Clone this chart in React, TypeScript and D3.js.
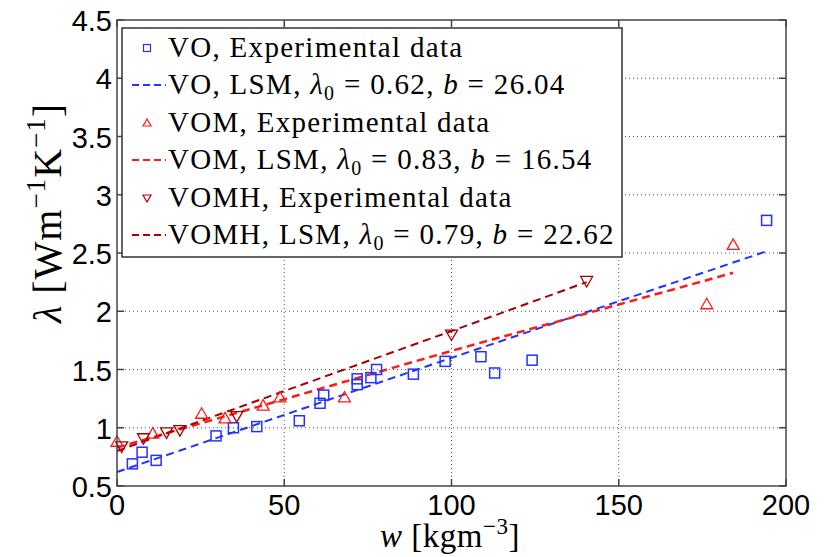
import React from "react";
import * as d3 from "d3";

const xTicks = [0, 50, 100, 150, 200];
const yTicks = [0.5, 1, 1.5, 2, 2.5, 3, 3.5, 4, 4.5];
const yTickLabels = ["0.5", "1", "1.5", "2", "2.5", "3", "3.5", "4", "4.5"];

// VO experimental
const voW = [4.6, 7.5, 11.7, 29.6, 34.8, 41.8, 54.5, 60.7, 61.8, 71.8, 71.8, 75.9, 77.6, 88.6, 98.1, 108.8, 112.9, 124.1, 194.2];
const voL = [0.69, 0.79, 0.72, 0.93, 1.0, 1.01, 1.06, 1.21, 1.28, 1.37, 1.42, 1.43, 1.5, 1.46, 1.57, 1.61, 1.47, 1.58, 2.78];
// VOM experimental
const vomW = [0, 10.7, 25.3, 32.3, 43.7, 48.7, 68, 176.3, 184.2];
const vomL = [0.88, 0.95, 1.12, 1.08, 1.19, 1.26, 1.26, 2.06, 2.57];
// VOMH experimental
const vomhW = [1.4, 7.9, 14.8, 18.8, 35.8, 100, 140.4];
const vomhL = [0.84, 0.91, 0.96, 0.98, 1.1, 1.8, 2.26];

// LSM fits
const voFitW = [0, 100, 194.2];
const voFitL = [0.62, 1.6, 2.515];
const vomFitW = [0, 100, 184.2];
const vomFitL = [0.83, 1.66, 2.33];
const vomhFitW = [0, 100, 140.4];
const vomhFitL = [0.8, 1.83, 2.25];

const W = 825, H = 557;
const L = 117, R = 786, T = 20, B = 486;

const BLUE = "#2233ff";
const RED = "#ff1a1a";
const DRED = "#a80000";

export default function App() {
  const x = d3.scaleLinear().domain([0, 200]).range([L, R]);
  const y = d3.scaleLinear().domain([0.5, 4.5]).range([B, T]);
  const line = d3.line<[number, number]>().x(d => x(d[0])).y(d => y(d[1]));
  const zip = (a: number[], b: number[]) => a.map((v, i) => [v, b[i]] as [number, number]);

  const tri = (cx: number, cy: number, up: boolean, s = 6) =>
    up
      ? `M${cx},${cy - s}L${cx - s},${cy + s * 0.75}L${cx + s},${cy + s * 0.75}Z`
      : `M${cx},${cy + s}L${cx - s},${cy - s * 0.75}L${cx + s},${cy - s * 0.75}Z`;

  const serif = "'Liberation Serif', 'DejaVu Serif', serif";
  const sans = "'Liberation Sans', Arial, sans-serif";

  const legendRows = [48, 85, 123, 160, 198, 235];
  const lx0 = 132, lx1 = 166, tx = 168, mx = 147;
  const lfs = 29;

  const fitLabel = (name: string, l0: string, b: string) => (
    <>
      {name}, LSM, <tspan fontStyle="italic">λ</tspan>
      <tspan fontSize={20} dy={6}>0</tspan>
      <tspan dy={-6}> = {l0}, </tspan>
      <tspan fontStyle="italic">b</tspan> = {b}
    </>
  );

  return (
    <svg width={W} height={H} style={{ display: "block", position: "absolute", left: 0, top: 0, background: "#fff" }}>
      <rect x={0} y={0} width={W} height={H} fill="#fff" />
      {/* grid */}
      {xTicks.slice(1, -1).map(t => (
        <line key={"gx" + t} x1={x(t)} x2={x(t)} y1={T} y2={B} stroke="#555" strokeWidth={1} strokeDasharray="1,3" />
      ))}
      {yTicks.slice(1, -1).map(t => (
        <line key={"gy" + t} x1={L} x2={R} y1={y(t)} y2={y(t)} stroke="#555" strokeWidth={1} strokeDasharray="1,3" />
      ))}
      {/* ticks */}
      {xTicks.map(t => (
        <g key={"tx" + t}>
          <line x1={x(t)} x2={x(t)} y1={B} y2={B - 7} stroke="#444" strokeWidth={1.5} />
          <line x1={x(t)} x2={x(t)} y1={T} y2={T + 7} stroke="#444" strokeWidth={1.5} />
          <text x={x(t)} y={515} textAnchor="middle" fontFamily={sans} fontSize={29} fill="#000">{t}</text>
        </g>
      ))}
      {yTicks.map((t, i) => (
        <g key={"ty" + t}>
          <line x1={L} x2={L + 7} y1={y(t)} y2={y(t)} stroke="#444" strokeWidth={1.5} />
          <line x1={R} x2={R - 7} y1={y(t)} y2={y(t)} stroke="#444" strokeWidth={1.5} />
          <text x={112} y={y(t) + 11} textAnchor="end" fontFamily={sans} fontSize={29} fill="#000">{yTickLabels[i]}</text>
        </g>
      ))}
      {/* fits */}
      <path d={line(zip(voFitW, voFitL)) || ""} fill="none" stroke={BLUE} strokeWidth={2} strokeDasharray="8,5" />
      <path d={line(zip(vomFitW, vomFitL)) || ""} fill="none" stroke={RED} strokeWidth={2.5} strokeDasharray="8,5" />
      <path d={line(zip(vomhFitW, vomhFitL)) || ""} fill="none" stroke={DRED} strokeWidth={2} strokeDasharray="8,5" />
      {/* markers */}
      {voW.map((w, i) => (
        <rect key={"vo" + i} x={x(w) - 5} y={y(voL[i]) - 5} width={10} height={10} fill="none" stroke={BLUE} strokeWidth={1.5} />
      ))}
      {vomW.map((w, i) => (
        <path key={"vom" + i} d={tri(x(w), y(vomL[i]), true)} fill="none" stroke={RED} strokeWidth={1.3} />
      ))}
      {vomhW.map((w, i) => (
        <path key={"vomh" + i} d={tri(x(w), y(vomhL[i]), false)} fill="none" stroke={DRED} strokeWidth={1.3} />
      ))}
      {/* axes box */}
      <rect x={L} y={T} width={R - L} height={B - T} fill="none" stroke="#444" strokeWidth={1.5} />
      {/* legend */}
      <rect x={122} y={28} width={500} height={229} fill="#fff" stroke="#333" strokeWidth={1.5} />
      <rect x={mx - 3.5} y={legendRows[0] - 3.5} width={7} height={7} fill="none" stroke={BLUE} strokeWidth={1.2} />
      <line x1={lx0} x2={lx1} y1={legendRows[1]} y2={legendRows[1]} stroke={BLUE} strokeWidth={2} strokeDasharray="7,4" />
      <path d={tri(mx, legendRows[2], true, 4)} fill="none" stroke={RED} strokeWidth={1.2} />
      <line x1={lx0} x2={lx1} y1={legendRows[3]} y2={legendRows[3]} stroke={RED} strokeWidth={2} strokeDasharray="7,4" />
      <path d={tri(mx, legendRows[4], false, 4)} fill="none" stroke={DRED} strokeWidth={1.2} />
      <line x1={lx0} x2={lx1} y1={legendRows[5]} y2={legendRows[5]} stroke={DRED} strokeWidth={2} strokeDasharray="7,4" />
      <g fontFamily={serif} fontSize={lfs} fill="#000" letterSpacing={1.3}>
        <text x={tx} y={legendRows[0] + 9}>VO, Experimental data</text>
        <text x={tx} y={legendRows[1] + 9}>{fitLabel("VO", "0.62", "26.04")}</text>
        <text x={tx} y={legendRows[2] + 9}>VOM, Experimental data</text>
        <text x={tx} y={legendRows[3] + 9}>{fitLabel("VOM", "0.83", "16.54")}</text>
        <text x={tx} y={legendRows[4] + 9}>VOMH, Experimental data</text>
        <text x={tx} y={legendRows[5] + 9}>{fitLabel("VOMH", "0.79", "22.62")}</text>
      </g>
      {/* axis labels */}
      <text x={450} y={547} textAnchor="middle" fontFamily={serif} fontSize={33} fill="#000" letterSpacing={0.5}>
        <tspan fontStyle="italic">w</tspan> [kgm<tspan fontSize={23} dy={-13}>−3</tspan><tspan dy={13}>]</tspan>
      </text>
      <text transform="translate(61,213) rotate(-90)" textAnchor="middle" fontFamily={serif} fontSize={40} fill="#000" letterSpacing={1}>
        <tspan fontStyle="italic">λ</tspan> [Wm<tspan fontSize={27} dy={-16}>−1</tspan><tspan dy={16}>K</tspan><tspan fontSize={27} dy={-16}>−1</tspan><tspan dy={16}>]</tspan>
      </text>
    </svg>
  );
}
